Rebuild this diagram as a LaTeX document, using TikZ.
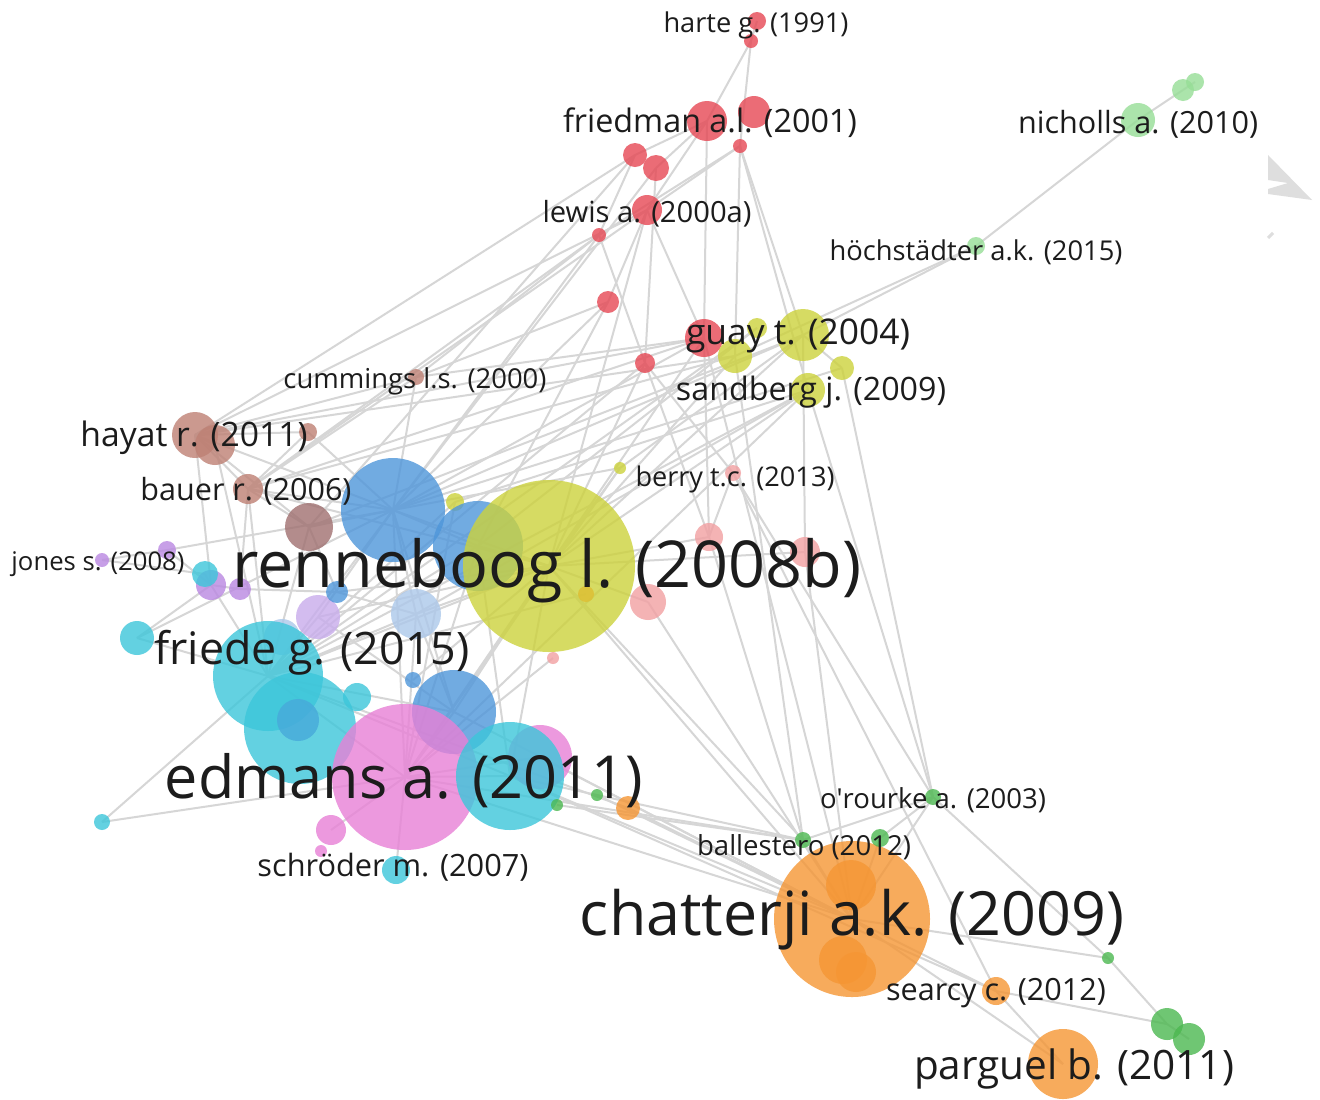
\documentclass[tikz,border=0pt]{standalone}
\usepackage{fontspec}
\setmainfont{Open Sans}
\usepackage{graphicx}
\usepackage{tikz}
\definecolor{VosRed}{RGB}{230,72,84}
\definecolor{VosSalmon}{RGB}{242,160,162}
\definecolor{VosYellow}{RGB}{204,210,60}
\definecolor{VosGold}{RGB}{222,190,50}
\definecolor{VosBlue}{RGB}{78,150,218}
\definecolor{VosLightBlue}{RGB}{172,200,234}
\definecolor{VosLavender}{RGB}{200,172,236}
\definecolor{VosCyan}{RGB}{60,198,218}
\definecolor{VosPink}{RGB}{232,128,214}
\definecolor{VosPurple}{RGB}{186,136,226}
\definecolor{VosBrown}{RGB}{190,128,116}
\definecolor{VosBrownDark}{RGB}{160,112,112}
\definecolor{VosOrange}{RGB}{245,150,52}
\definecolor{VosGreen}{RGB}{76,184,80}
\definecolor{VosLightGreen}{RGB}{150,222,150}
\definecolor{LinkGray}{RGB}{214,214,214}
\definecolor{LabelGray}{RGB}{28,28,28}
\definecolor{Watermark}{RGB}{222,222,222}
\newlength{\pxw}
\setlength{\pxw}{0.5pt}
\newcommand{\lbl}[2]{\resizebox{#1\pxw}{!}{#2}}
\pgfdeclarelayer{links}
\pgfsetlayers{links,main}

\begin{document}
\begin{tikzpicture}[
 x=0.5pt, y=-0.5pt,
 bub/.style={circle, inner sep=0pt, minimum size=#1pt, fill opacity=0.8},
 lab/.style={inner sep=0pt, yshift=-1.5pt, text=LabelGray},
 link/.style={draw=LinkGray, line width=1pt}
]
\useasboundingbox (0,0) rectangle (1320,1099);

% red cluster
\node[bub=9, fill=VosRed] (harte) at (757,21) {};
\node[bub=7, fill=VosRed] (harteb) at (751,41) {};
\node[bub=20, fill=VosRed] (friedman) at (707,121) {};
\node[bub=16, fill=VosRed] (friedmanb) at (754,112) {};
\node[bub=7, fill=VosRed] (redc) at (740,146) {};
\node[bub=12, fill=VosRed] (redd) at (635,155) {};
\node[bub=13, fill=VosRed] (rede) at (656,168) {};
\node[bub=15, fill=VosRed] (lewis) at (647,210) {};
\node[bub=7, fill=VosRed] (redf) at (599,235) {};
\node[bub=11, fill=VosRed] (redg) at (608,302) {};
\node[bub=10, fill=VosRed] (redh) at (645,363) {};
\node[bub=19, fill=VosRed] (guayr) at (704,338) {};
\node[bub=8, fill=VosSalmon] (berryp) at (733,473) {};
\node[bub=14, fill=VosSalmon] (salma) at (709,537) {};
\node[bub=15, fill=VosSalmon] (salmb) at (805,552) {};
\node[bub=18, fill=VosSalmon] (salmc) at (648,602) {};
\node[bub=6, fill=VosSalmon] (salmd) at (553,658) {};

% yellow cluster
\node[bub=17, fill=VosYellow] (yela) at (735,356) {};
\node[bub=10, fill=VosYellow] (yelb) at (757,328) {};
\node[bub=26, fill=VosYellow] (guay) at (803,335) {};
\node[bub=12, fill=VosYellow] (yelc) at (842,368) {};
\node[bub=17, fill=VosYellow] (sandberg) at (808,390) {};
\node[bub=6, fill=VosYellow] (berry) at (620,468) {};
\node[bub=9, fill=VosYellow] (yeld) at (455,502) {};

% blue cluster
\node[bub=52, fill=VosBlue] (bluea) at (393,510) {};
\node[bub=45, fill=VosBlue] (blueb) at (478,546) {};
\node[bub=86, fill=VosYellow] (renneboog) at (549,566) {};
\node[bub=8, fill=VosGold] (yele) at (586,594) {};
\node[bub=25, fill=VosLightBlue] (lba) at (416,614) {};
\node[bub=18, fill=VosLightBlue] (lbb) at (282,637) {};
\node[bub=22, fill=VosLavender] (lav) at (318,617) {};
\node[bub=11, fill=VosBlue] (blued) at (337,592) {};
\node[bub=8, fill=VosBlue] (bluee) at (413,680) {};

% purple and brown
\node[bub=15, fill=VosPurple] (purpa) at (211,585) {};
\node[bub=11, fill=VosPurple] (purpb) at (240,589) {};
\node[bub=9, fill=VosPurple] (purpc) at (167,550) {};
\node[bub=7, fill=VosPurple] (jones) at (102,560) {};
\node[bub=23, fill=VosBrown] (hayat) at (195,435) {};
\node[bub=20, fill=VosBrown] (hayatb) at (215,445) {};
\node[bub=9, fill=VosBrown] (browna) at (308,432) {};
\node[bub=15, fill=VosBrown] (bauer) at (248,489) {};
\node[bub=24, fill=VosBrownDark] (brownb) at (309,527) {};
\node[bub=8, fill=VosBrown] (cummings) at (416,377) {};

% cyan and pink
\node[bub=13, fill=VosCyan] (cyane) at (205,574) {};
\node[bub=17, fill=VosCyan] (cyand) at (137,638) {};
\node[bub=55, fill=VosCyan] (friede) at (268,676) {};
\node[bub=56, fill=VosCyan] (cyanb) at (300,728) {};
\node[bub=21, fill=VosBlue!60!VosCyan] (bluef) at (298,720) {};
\node[bub=14, fill=VosCyan] (cyanh) at (357,697) {};
\node[bub=8, fill=VosCyan] (cyanf) at (102,822) {};
\node[bub=42, fill=VosBlue] (bluec) at (454,712) {};
\node[bub=73, fill=VosPink] (edmans) at (405,777) {};
\node[bub=32, fill=VosPink] (pinkb) at (540,757) {};
\node[bub=54, fill=VosCyan] (cyanc) at (510,776) {};
\node[bub=15, fill=VosPink] (pinkc) at (331,830) {};
\node[bub=6, fill=VosPink] (pinkd) at (321,851) {};
\node[bub=14, fill=VosCyan] (cyang) at (396,870) {};

% orange and green
\node[bub=12, fill=VosOrange] (orane) at (628,808) {};
\node[bub=78, fill=VosOrange] (chatterji) at (852,919) {};
\node[bub=25, fill=VosOrange] (oranb) at (851,885) {};
\node[bub=24, fill=VosOrange] (oranc) at (843,960) {};
\node[bub=20, fill=VosOrange] (orand) at (856,972) {};
\node[bub=14, fill=VosOrange] (searcy) at (996,991) {};
\node[bub=35, fill=VosOrange] (parguel) at (1063,1064) {};
\node[bub=8, fill=VosGreen] (orourke) at (933,797) {};
\node[bub=8, fill=VosGreen] (ballestero) at (803,840) {};
\node[bub=9, fill=VosGreen] (greenb) at (880,838) {};
\node[bub=6, fill=VosGreen] (greenc) at (1108,958) {};
\node[bub=16, fill=VosGreen] (greend) at (1167,1024) {};
\node[bub=16, fill=VosGreen] (greene) at (1189,1039) {};
\node[bub=6, fill=VosGreen] (greenf) at (557,805) {};
\node[bub=6, fill=VosGreen] (greeng) at (597,795) {};
\node[bub=17, fill=VosLightGreen] (nicholls) at (1138,120) {};
\node[bub=11, fill=VosLightGreen] (lga) at (1183,90) {};
\node[bub=9, fill=VosLightGreen] (lgb) at (1195,82) {};
\node[bub=9, fill=VosLightGreen] (hoch) at (976,246) {};

% labels
\node[lab] (harte-t) at (756,22) {\lbl{185}{harte g. (1991)}};
\node[lab] (friedman-t) at (710,120) {\lbl{294}{friedman a.l. (2001)}};
\node[lab] (nicholls-t) at (1138,121) {\lbl{240}{nicholls a. (2010)}};
\node[lab] (lewis-t) at (647,211) {\lbl{209}{lewis a. (2000a)}};
\node[lab] (hoch-t) at (976,249) {\lbl{293}{höchstädter a.k. (2015)}};
\node[lab] (guay-t) at (798,333) {\lbl{224}{guay t. (2004)}};
\node[lab] (cummings-t) at (415,378) {\lbl{263}{cummings l.s. (2000)}};
\node[lab] (sandberg-t) at (811,389) {\lbl{270}{sandberg j. (2009)}};
\node[lab] (hayat-t) at (194,435) {\lbl{227}{hayat r. (2011)}};
\node[lab] (berry-t) at (735,476) {\lbl{199}{berry t.c. (2013)}};
\node[lab] (bauer-t) at (246,488) {\lbl{211}{bauer r. (2006)}};
\node[lab] (jones-t) at (98,561) {\lbl{173}{jones s. (2008)}};
\node[lab] (renneboog-t) at (547,568) {\lbl{629}{renneboog l. (2008b)}};
\node[lab] (friede-t) at (312,650) {\lbl{315}{friede g. (2015)}};
\node[lab] (edmans-t) at (404,778) {\lbl{478}{edmans a. (2011)}};
\node[lab] (orourke-t) at (933,797) {\lbl{226}{o\textquotesingle rourke a. (2003)}};
\node[lab] (ballestero-t) at (804,844) {\lbl{214}{ballestero (2012)}};
\node[lab] (schroder-t) at (393,864) {\lbl{271}{schröder m. (2007)}};
\node[lab] (chatterji-t) at (852,917) {\lbl{544}{chatterji a.k. (2009)}};
\node[lab] (searcy-t) at (996,990) {\lbl{220}{searcy c. (2012)}};
\node[lab] (parguel-t) at (1074,1066) {\lbl{320}{parguel b. (2011)}};

\begin{pgfonlayer}{links}
\fill[white] (0,0) rectangle (1320,1099);
\fill[Watermark] (1268,155) -- (1312,200) -- (1268,194) -- (1268,189) -- (1288,183) -- (1268,180) -- cycle;
\draw[Watermark, line width=1.5pt] (1268,238) -- (1273,233);
\draw[link] (harteb.center) edge (harte.center) edge (friedman.center) edge (redc.center);
\draw[link] (friedman.center) edge (redd.center) edge (lewis.center) edge (guayr.center) edge (rede.center);
\draw[link] (redc.center) edge (lewis.center) edge (redf.center) edge (yela.center) edge (sandberg.center) edge (guay.center);
\draw[link] (redd.center) edge (redf.center) edge (brownb.center) edge (hayat.center);
\draw[link] (rede.center) edge (redh.center) edge (bluea.center);
\draw[link] (lewis.center) edge (redg.center) edge (renneboog.center) edge (guayr.center) edge (hayat.center) edge (bauer.center);
\draw[link] (redf.center) edge (bauer.center) edge (bluea.center) edge (redh.center) edge (cummings.center);
\draw[link] (redg.center) edge (bluea.center) edge (blueb.center) edge (cummings.center);
\draw[link] (redh.center) edge (renneboog.center) edge (salma.center) edge (berryp.center) edge (friede.center);
\draw[link] (guayr.center) edge (bluea.center) edge (renneboog.center) edge (salma.center) edge (chatterji.center) edge (hayat.center) edge (cummings.center) edge (bauer.center);
\draw[link] (guay.center) edge (hoch.center) edge (bluea.center) edge (brownb.center) edge (renneboog.center) edge (salmb.center) edge (berry.center);
\draw[link] (hoch.center) edge (nicholls.center) edge (yela.center);
\draw[link] (lga.center) edge (nicholls.center) edge (lgb.center);
\draw[link] (yela.center) edge (bauer.center) edge (renneboog.center) edge (ballestero.center) edge (hayat.center);
\draw[link] (yelb.center) edge (blueb.center) edge (friede.center);
\draw[link] (yelc.center) edge (orourke.center) edge (bluea.center) edge (guay.center);
\draw[link] (sandberg.center) edge (orourke.center) edge (renneboog.center) edge (friede.center) edge (yeld.center) edge (lba.center) edge (edmans.center);
\draw[link] (cummings.center) edge (hayat.center) edge (bluea.center) edge (bauer.center);
\draw[link] (berry.center) edge (renneboog.center) edge (bluea.center) edge (edmans.center);
\draw[link] (berryp.center) edge (orourke.center) edge (searcy.center) edge (salma.center);
\draw[link] (salma.center) edge (ballestero.center) edge (renneboog.center);
\draw[link] (salmb.center) edge (chatterji.center) edge (renneboog.center);
\draw[link] (salmc.center) edge (renneboog.center) edge (chatterji.center);
\draw[link] (salmd.center) edge (edmans.center);
\draw[link] (hayat.center) edge (hayatb.center) edge (browna.center) edge (bauer.center) edge (brownb.center) edge (bluea.center) edge (purpa.center);
\draw[link] (hayatb.center) edge (friede.center);
\draw[link] (browna.center) edge (bluea.center) edge (bauer.center);
\draw[link] (bauer.center) edge (brownb.center) edge (bluea.center) edge (purpb.center) edge (friede.center) edge (renneboog.center);
\draw[link] (brownb.center) edge (bluea.center) edge (friede.center) edge (blued.center);
\draw[link] (jones.center) edge (purpc.center) edge (cyane.center);
\draw[link] (purpc.center) edge (bluea.center) edge (purpa.center);
\draw[link] (purpa.center) edge (purpb.center) edge (friede.center) edge (cyane.center);
\draw[link] (purpb.center) edge (blued.center);
\draw[link] (cyand.center) edge (friede.center) edge (purpa.center) edge (bluea.center);
\draw[link] (cyanf.center) edge (friede.center) edge (edmans.center);
\draw[link] (bluea.center) edge (blueb.center) edge (renneboog.center) edge (friede.center) edge (edmans.center) edge (lba.center) edge (lav.center) edge (bluec.center);
\draw[link] (blueb.center) edge (renneboog.center) edge (friede.center) edge (edmans.center) edge (cyanc.center);
\draw[link] (renneboog.center) edge (friede.center) edge (edmans.center) edge (lba.center) edge (bluec.center) edge (cyanc.center) edge (lav.center) edge (ballestero.center) edge (chatterji.center);
\draw[link] (friede.center) edge (edmans.center) edge (lba.center) edge (bluec.center) edge (lav.center) edge (cyanc.center) edge (orane.center);
\draw[link] (edmans.center) edge (bluec.center) edge (lba.center) edge (cyanc.center) edge (pinkb.center) edge (pinkc.center) edge (cyang.center) edge (ballestero.center) edge (chatterji.center);
\draw[link] (lba.center) edge (bluec.center) edge (blued.center);
\draw[link] (lav.center) edge (bluec.center);
\draw[link] (bluee.center) edge (renneboog.center);
\draw[link] (blued.center) edge (renneboog.center);
\draw[link] (yeld.center) edge (friede.center) edge (edmans.center);
\draw[link] (yele.center) edge (friede.center);
\draw[link] (cyanc.center) edge (ballestero.center) edge (chatterji.center) edge (searcy.center);
\draw[link] (pinkb.center) edge (chatterji.center);
\draw[link] (bluec.center) edge (chatterji.center);
\draw[link] (orane.center) edge (chatterji.center);
\draw[link] (greenf.center) edge (ballestero.center);
\draw[link] (greeng.center) edge (chatterji.center);
\draw[link] (ballestero.center) edge (chatterji.center) edge (orourke.center);
\draw[link] (greenb.center) edge (orourke.center) edge (chatterji.center);
\draw[link] (orourke.center) edge (chatterji.center) edge (greenc.center);
\draw[link] (chatterji.center) edge (greenc.center) edge (searcy.center) edge (parguel.center);
\draw[link] (searcy.center) edge (parguel.center) edge (greend.center);
\draw[link] (greenc.center) edge (greend.center);
\draw[link] (greend.center) edge (greene.center);
\end{pgfonlayer}
\end{tikzpicture}
\end{document}
